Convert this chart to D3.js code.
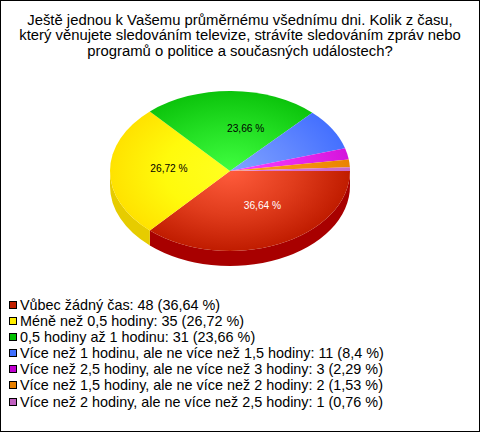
<!DOCTYPE html>
<html><head><meta charset="utf-8">
<script src="https://cdnjs.cloudflare.com/ajax/libs/d3/7.8.5/d3.min.js"></script>
<style>html,body{margin:0;padding:0;background:#fff}svg{display:block}text{font-family:"Liberation Sans",Arial,sans-serif}</style>
</head><body><svg id="c" width="480" height="432"></svg>
<script>
const titleLines = ["Ještě jednou k Vašemu průměrnému všednímu dni. Kolik z času,","který věnujete sledováním televize, strávíte sledováním zpráv nebo","programů o politice a současných událostech?"];
const categories = ["Vůbec žádný čas","Méně než 0,5 hodiny","0,5 hodiny až 1 hodinu","Více než 1 hodinu, ale ne více než 1,5 hodiny","Více než 2,5 hodiny, ale ne více než 3 hodiny","Více než 1,5 hodiny, ale ne více než 2 hodiny","Více než 2 hodiny, ale ne více než 2,5 hodiny"];
const counts = [48,35,31,11,3,2,1];
const shares = ["36,64","26,72","23,66","8,4","2,29","1,53","0,76"];
const innerColors = ["#ff5c3c","#ffff20","#40ff40","#80a4ff","#ff40ff","#ffa020","#e080e0"];
const midColors = ["#e03c1c","#fffa0c","#24e024","#6288ff","#e82aee","#f59210","#d474d4"];
const outerColors = ["#c01c00","#ffe200","#0cc40c","#4470ff","#d414dc","#ea8400","#c868c8"];
const sideColors = ["#a80000","#e6cc00","#0a9a0a","#3050c0","#a010a0","#b06000","#a050a0"];
const swatchColors = ["#c02000","#ffee00","#00c000","#4070ff","#c000d0","#e88000","#c060c0"];
const labelColors = ["#fff","#000","#000"];

const W=480,H=432,cx=230,cy=171,rx=120,ry=80,depth=15;
const svg=d3.select("#c");
svg.append("rect").attr("x",.5).attr("y",.5).attr("width",W-1).attr("height",H-1).attr("fill","#fff").attr("stroke","#000");
svg.append("g").selectAll("text").data(titleLines).join("text")
  .attr("x",240).attr("y",(d,i)=>24.5+i*15.6).attr("text-anchor","middle").attr("font-size",14.85).attr("fill","#000").text(d=>d);

const pie=d3.pie().sort(null).startAngle(Math.PI/2).endAngle(Math.PI*2.5);
const arcs=pie(counts);
const arc=d3.arc().innerRadius(0).outerRadius(1);
const px=d3.scaleLinear().domain([-1,1]).range([cx-rx,cx+rx]);
const py=d3.scaleLinear().domain([-1,1]).range([cy-ry,cy+ry]);
const defs=svg.append("defs");
arcs.forEach((a,i)=>{
  const g=defs.append("radialGradient").attr("id","g"+i).attr("cx",0).attr("cy",0).attr("r",1).attr("gradientUnits","userSpaceOnUse");
  g.append("stop").attr("offset",0).attr("stop-color",innerColors[i]);
  g.append("stop").attr("offset",.55).attr("stop-color",midColors[i]);
  g.append("stop").attr("offset",1).attr("stop-color",outerColors[i]);
});
const sx=t=>px(Math.sin(t)), sy=t=>py(-Math.cos(t));
const side=svg.append("g");
arcs.forEach((a,i)=>{
  const s=Math.max(a.startAngle,Math.PI/2), e=Math.min(a.endAngle,Math.PI*1.5);
  if(e<=s) return;
  const p=`M${sx(s)},${sy(s)}A${rx},${ry} 0 0 1 ${sx(e)},${sy(e)}L${sx(e)},${sy(e)+depth}A${rx},${ry} 0 0 0 ${sx(s)},${sy(s)+depth}Z`;
  side.append("path").attr("d",p).attr("fill",sideColors[i]);
});
svg.append("g").attr("transform",`translate(${cx},${cy}) scale(${rx},${ry})`)
  .selectAll("path").data(arcs).join("path").attr("d",arc).attr("fill",(d,i)=>`url(#g${i})`);

const labelNudge=[8,-1,15];
svg.append("g").selectAll("text").data(arcs.slice(0,3)).join("text")
  .attr("x",(d,i)=>sx((d.startAngle+d.endAngle)/2)*.5+cx*.5+labelNudge[i])
  .attr("y",d=>sy((d.startAngle+d.endAngle)/2)*.5+cy*.5+1)
  .attr("text-anchor","middle").attr("font-size",10.2)
  .attr("fill",(d,i)=>labelColors[i]).text((d,i)=>shares[i]+" %");

const ly=d3.scalePoint().domain(d3.range(categories.length)).range([305,401.5]);
const leg=svg.append("g").selectAll("g").data(categories).join("g").attr("transform",(d,i)=>`translate(0,${Math.round(ly(i))})`);
leg.append("rect").attr("x",9.5).attr("y",-3.5).attr("width",7).attr("height",7).attr("fill",(d,i)=>swatchColors[i]).attr("stroke","#000");
leg.append("text").attr("x",20).attr("y",4.5).attr("font-size",14.4).attr("fill","#000")
  .text((d,i)=>`${d}: ${counts[i]} (${shares[i]} %)`);
</script></body></html>
